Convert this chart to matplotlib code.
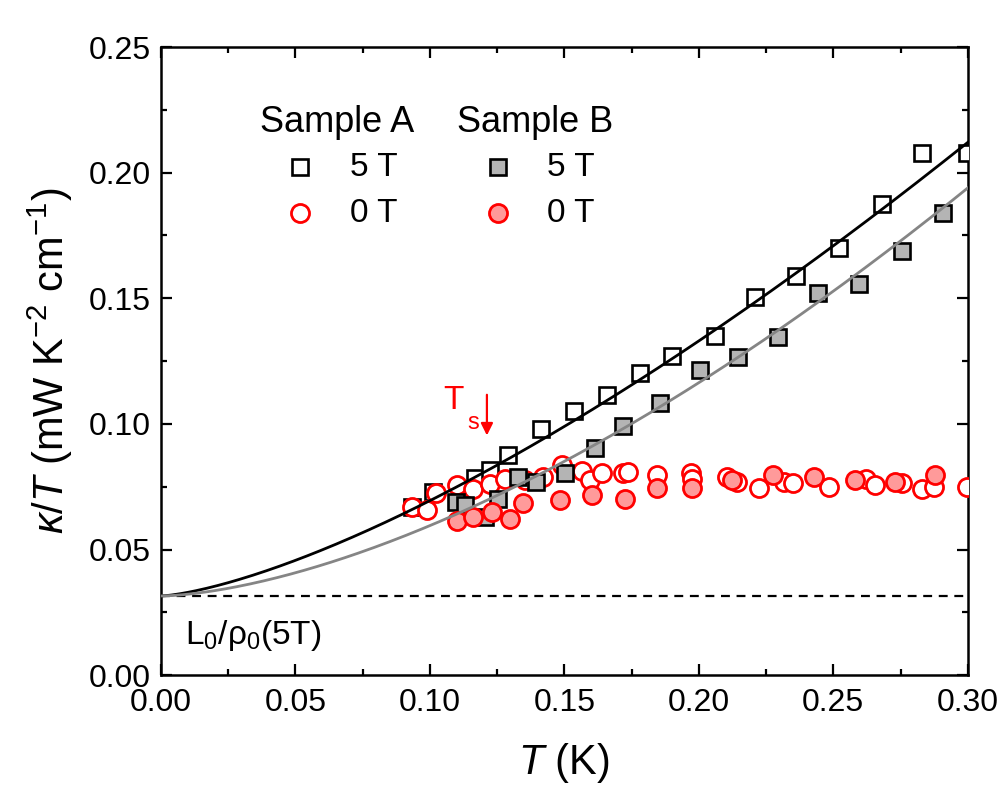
# plot.py
# kappa/T vs T, samples A and B at 5 T and 0 T

import numpy as np
import matplotlib
matplotlib.use("Agg")
import matplotlib.pyplot as plt

plt.rcParams['font.family'] = ['Liberation Sans', 'DejaVu Sans']
plt.rcParams['mathtext.fontset'] = 'custom'
plt.rcParams['mathtext.rm'] = 'Liberation Sans'
plt.rcParams['mathtext.it'] = 'Liberation Sans:italic'
plt.rcParams['mathtext.bf'] = 'Liberation Sans:bold'

# ---------- data ----------
# Sample A, 5 T (open squares)
T_A5 = [0.0933, 0.101, 0.1167, 0.1223, 0.129, 0.1413, 0.1535, 0.1658, 0.178,
        0.190, 0.206, 0.221, 0.236, 0.252, 0.268, 0.283, 0.2996]
k_A5 = [0.0669, 0.0729, 0.0784, 0.0816, 0.0876, 0.0979, 0.1051, 0.1115, 0.1202,
        0.127, 0.135, 0.1505, 0.159, 0.170, 0.1875, 0.208, 0.2078]

# Sample B, 5 T (grey squares)
T_B5 = [0.1097, 0.113, 0.1204, 0.1253, 0.1327, 0.1394, 0.1502, 0.1613, 0.1717,
        0.1855, 0.2004, 0.2145, 0.2294, 0.2442, 0.2595, 0.2755, 0.2907]
k_B5 = [0.0689, 0.0677, 0.0629, 0.0701, 0.0788, 0.0768, 0.0804, 0.0904, 0.0991,
        0.1083, 0.1214, 0.1266, 0.1346, 0.1521, 0.1557, 0.1688, 0.1839]

# Sample A, 0 T (open red circles)
T_A0 = [0.0933, 0.0989, 0.1022, 0.110, 0.116, 0.1223, 0.1279, 0.1353, 0.142,
        0.1491, 0.1565, 0.1595, 0.1639, 0.1717, 0.1736, 0.1844, 0.197, 0.1974,
        0.2104, 0.2141, 0.2223, 0.2316, 0.2349, 0.2483, 0.2621, 0.2654, 0.2755,
        0.2829, 0.2874, 0.2996]
k_A0 = [0.0669, 0.0657, 0.0725, 0.0756, 0.0740, 0.0760, 0.0780, 0.0776, 0.0788,
        0.0836, 0.0812, 0.0776, 0.0804, 0.0804, 0.0808, 0.0796, 0.0804, 0.0780,
        0.0788, 0.0768, 0.0744, 0.0768, 0.0764, 0.0748, 0.0780, 0.0756, 0.0764,
        0.0740, 0.0748, 0.0748]

# Sample B, 0 T (filled pink circles)
T_B0 = [0.110, 0.116, 0.123, 0.1297, 0.1346, 0.1483, 0.1602, 0.1725, 0.1844,
        0.1974, 0.2123, 0.2275, 0.2428, 0.258, 0.2729, 0.2877]
k_B0 = [0.0613, 0.0629, 0.0649, 0.0621, 0.0685, 0.0697, 0.0717, 0.0701, 0.0744,
        0.0744, 0.0776, 0.0796, 0.0788, 0.0776, 0.0768, 0.0796]

# fits: kappa/T = L0/rho0 + b * T^n
L0_RHO0 = 0.0315
FIT_A = (0.998, 1.42)
FIT_B = (1.115, 1.60)

# ---------- plot ----------
fig = plt.figure(figsize=(10.06, 7.85), dpi=100)
ax = fig.add_axes([0.160, 0.140, 0.802, 0.800])

sq = dict(marker='s', ms=11.5, mew=1.9, ls='none', mec='black')
ci = dict(marker='o', ms=13, mew=2.0, ls='none', mec='red')

ax.plot(T_A5, k_A5, mfc='white', zorder=3, **sq)
ax.plot(T_A0, k_A0, mfc='white', zorder=4, **ci)
ax.plot(T_B5, k_B5, mfc='#b4b4b4', zorder=5, **sq)
ax.plot(T_B0, k_B0, mfc='#ff9a9a', zorder=6, **ci)

T_fit = np.linspace(0, 0.30, 300)
ax.plot(T_fit, L0_RHO0 + FIT_A[0] * T_fit ** FIT_A[1], color='black', lw=2, zorder=7)
ax.plot(T_fit, L0_RHO0 + FIT_B[0] * T_fit ** FIT_B[1], color='#858585', lw=2, zorder=7)
ax.axhline(L0_RHO0, color='black', lw=1.6, ls=(0, (4, 3)), zorder=2)

ax.set_xlim(0, 0.30)
ax.set_ylim(0, 0.25)
ax.set_xticks(np.arange(0, 0.301, 0.05))
ax.set_yticks(np.arange(0, 0.251, 0.05))
ax.set_xticks(np.arange(0.025, 0.3, 0.05), minor=True)
ax.set_yticks(np.arange(0.025, 0.25, 0.05), minor=True)
ax.xaxis.set_major_formatter(lambda v, p: f"{v:.2f}")
ax.yaxis.set_major_formatter(lambda v, p: f"{v:.2f}")
ax.tick_params(which='both', direction='in', top=True, right=True, width=1.6)
ax.tick_params(which='major', length=8, labelsize=23)
ax.tick_params(axis='x', which='major', pad=9)
ax.tick_params(axis='y', which='major', pad=7)
ax.tick_params(which='minor', length=4)
for s in ax.spines.values():
    s.set_linewidth(1.8)

ax.set_xlabel(r'$\mathit{T}$ (K)', fontsize=30, labelpad=17)
ax.set_ylabel(r'$\mathit{\kappa}$/$\mathit{T}$ (mW K$^{\mathregular{-2}}$ cm$^{\mathregular{-1}}$)',
              fontsize=30)
ax.yaxis.set_label_coords(-0.107, 0.5)

# legend, built by hand (two columns with headers)
tr = ax.transAxes
ax.text(0.1227, 0.8806, 'Sample A', transform=tr, fontsize=26, va='center')
ax.text(0.3668, 0.8806, 'Sample B', transform=tr, fontsize=26, va='center')
ax.plot([0.1722], [0.809], transform=tr, mfc='white', **sq)
ax.plot([0.1722], [0.7357], transform=tr, mfc='white', **ci)
ax.plot([0.4176], [0.809], transform=tr, mfc='#b4b4b4', **sq)
ax.plot([0.4176], [0.7357], transform=tr, mfc='#ff9a9a', **ci)
for x in (0.234, 0.4783):
    ax.text(x, 0.809, '5 T', transform=tr, fontsize=24, va='center')
    ax.text(x, 0.7357, '0 T', transform=tr, fontsize=24, va='center')

# T_s marker
ax.text(0.105, 0.1095, 'T', color='red', fontsize=24, va='center')
ax.text(0.1138, 0.1005, 's', color='red', fontsize=17, va='center')
ax.annotate('', xy=(0.1212, 0.0943), xytext=(0.1212, 0.1127),
            arrowprops=dict(arrowstyle='-|>', color='red', lw=1.6, mutation_scale=18))

ax.text(0.03, 0.0637, r'L$_{\mathregular{0}}$/ρ$_{\mathregular{0}}$(5T)', transform=tr,
        fontsize=24, va='center')

fig.savefig('out.png', dpi=100)
